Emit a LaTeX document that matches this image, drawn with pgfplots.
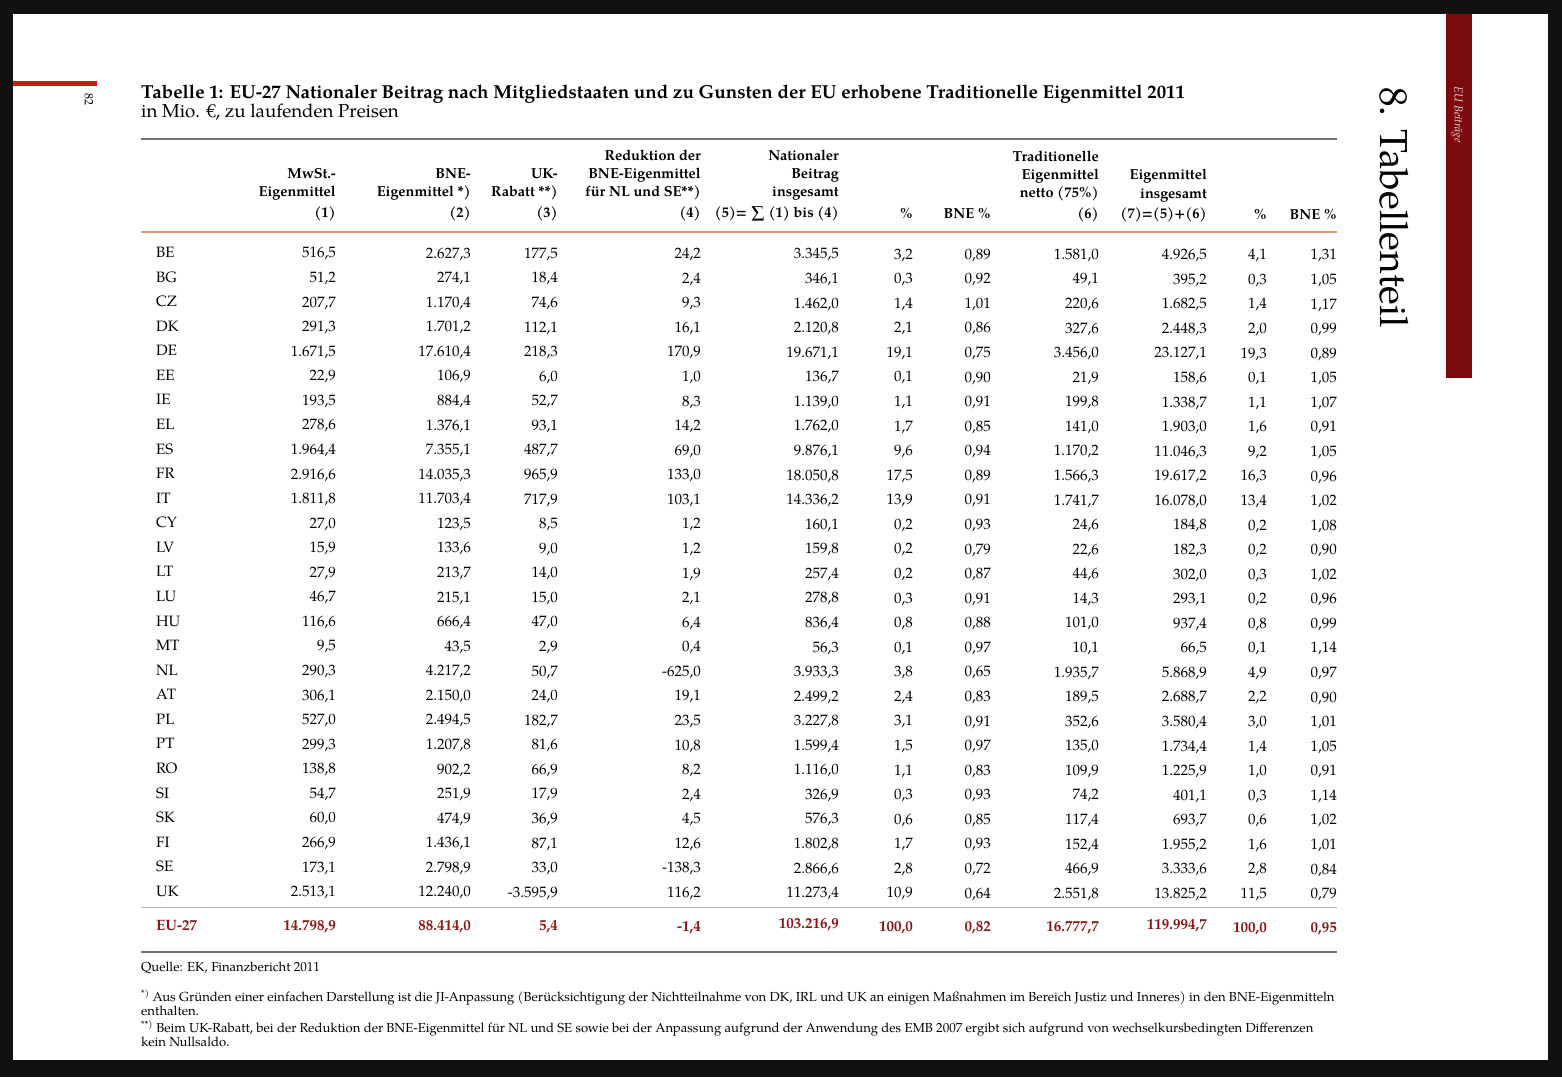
\documentclass[border=0pt]{standalone}
\usepackage{fontspec}
\setmainfont{TeX Gyre Pagella}
\usepackage{pgfplots}
\usepackage{pgfplotstable}
\pgfplotsset{compat=1.18}

\definecolor{totred}{RGB}{140,22,22}
\definecolor{barred}{RGB}{122,10,14}
\definecolor{topred}{RGB}{212,22,22}
\definecolor{salmon}{RGB}{226,150,125}
\definecolor{pagebg}{RGB}{17,17,17}

\newcommand{\bodyfont}{\fontsize{15}{18}\selectfont}
\newcommand{\hdrfont}{\fontsize{14.5}{18}\selectfont\bfseries}
\newcommand{\totfont}{\fontsize{15}{18}\selectfont\bfseries}
\newcommand{\ttlfont}{\fontsize{18.8}{22}\selectfont\bfseries}
\newcommand{\subfont}{\fontsize{18.7}{22}\selectfont}
\newcommand{\fnfont}{\fontsize{13.1}{15}\selectfont}

\tikzset{hdr/.style={anchor=base east, inner sep=0pt, font=\hdrfont}}

\pgfplotstableread{
row cc c1 c2 c3 c4 c5 c6 c7 c8 c9 c10 c11
0 BE 516,5 2.627,3 177,5 24,2 3.345,5 3,2 0,89 1.581,0 4.926,5 4,1 1,31
1 BG 51,2 274,1 18,4 2,4 346,1 0,3 0,92 49,1 395,2 0,3 1,05
2 CZ 207,7 1.170,4 74,6 9,3 1.462,0 1,4 1,01 220,6 1.682,5 1,4 1,17
3 DK 291,3 1.701,2 112,1 16,1 2.120,8 2,1 0,86 327,6 2.448,3 2,0 0,99
4 DE 1.671,5 17.610,4 218,3 170,9 19.671,1 19,1 0,75 3.456,0 23.127,1 19,3 0,89
5 EE 22,9 106,9 6,0 1,0 136,7 0,1 0,90 21,9 158,6 0,1 1,05
6 IE 193,5 884,4 52,7 8,3 1.139,0 1,1 0,91 199,8 1.338,7 1,1 1,07
7 EL 278,6 1.376,1 93,1 14,2 1.762,0 1,7 0,85 141,0 1.903,0 1,6 0,91
8 ES 1.964,4 7.355,1 487,7 69,0 9.876,1 9,6 0,94 1.170,2 11.046,3 9,2 1,05
9 FR 2.916,6 14.035,3 965,9 133,0 18.050,8 17,5 0,89 1.566,3 19.617,2 16,3 0,96
10 IT 1.811,8 11.703,4 717,9 103,1 14.336,2 13,9 0,91 1.741,7 16.078,0 13,4 1,02
11 CY 27,0 123,5 8,5 1,2 160,1 0,2 0,93 24,6 184,8 0,2 1,08
12 LV 15,9 133,6 9,0 1,2 159,8 0,2 0,79 22,6 182,3 0,2 0,90
13 LT 27,9 213,7 14,0 1,9 257,4 0,2 0,87 44,6 302,0 0,3 1,02
14 LU 46,7 215,1 15,0 2,1 278,8 0,3 0,91 14,3 293,1 0,2 0,96
15 HU 116,6 666,4 47,0 6,4 836,4 0,8 0,88 101,0 937,4 0,8 0,99
16 MT 9,5 43,5 2,9 0,4 56,3 0,1 0,97 10,1 66,5 0,1 1,14
17 NL 290,3 4.217,2 50,7 -625,0 3.933,3 3,8 0,65 1.935,7 5.868,9 4,9 0,97
18 AT 306,1 2.150,0 24,0 19,1 2.499,2 2,4 0,83 189,5 2.688,7 2,2 0,90
19 PL 527,0 2.494,5 182,7 23,5 3.227,8 3,1 0,91 352,6 3.580,4 3,0 1,01
20 PT 299,3 1.207,8 81,6 10,8 1.599,4 1,5 0,97 135,0 1.734,4 1,4 1,05
21 RO 138,8 902,2 66,9 8,2 1.116,0 1,1 0,83 109,9 1.225,9 1,0 0,91
22 SI 54,7 251,9 17,9 2,4 326,9 0,3 0,93 74,2 401,1 0,3 1,14
23 SK 60,0 474,9 36,9 4,5 576,3 0,6 0,85 117,4 693,7 0,6 1,02
24 FI 266,9 1.436,1 87,1 12,6 1.802,8 1,7 0,93 152,4 1.955,2 1,6 1,01
25 SE 173,1 2.798,9 33,0 -138,3 2.866,6 2,8 0,72 466,9 3.333,6 2,8 0,84
26 UK 2.513,1 12.240,0 -3.595,9 116,2 11.273,4 10,9 0,64 2.551,8 13.825,2 11,5 0,79
}\datatable

\pgfplotstableread{
row cc c1 c2 c3 c4 c5 c6 c7 c8 c9 c10 c11
0 EU-27 14.798,9 88.414,0 5,4 -1,4 103.216,9 100,0 0,82 16.777,7 119.994,7 100,0 0,95
}\totaltable

\pgfplotsset{
  cell/.style={only marks, mark=text, text mark={},
    point meta=explicit symbolic,
    nodes near coords={\pgfplotspointmeta},
    every node near coord/.append style={anchor=base east, inner sep=0pt, font=\bodyfont, text=black}},
  totcell/.style={cell,
    every node near coord/.append style={font=\totfont, text=totred}},
}

% body column: x = right edge, #3 = column name
\newcommand{\col}[3][]{\addplot[cell,#1] table[x expr=#2, y expr={257.5+24.57*\thisrow{row}+0.002*(#2-156)}, meta=#3]{\datatable};}
\newcommand{\tcol}[3][]{\addplot[totcell,#1] table[x expr=#2, y expr={930+0.002*(#2-156)}, meta=#3]{\totaltable};}

\begin{document}
\begin{tikzpicture}
\begin{axis}[
  width=1562pt, height=1077pt, scale only axis,
  xmin=0, xmax=1562, ymin=0, ymax=1077, y dir=reverse,
  hide axis, clip=false,
]
% scanned page background
\fill[pagebg] (axis cs:0,0) rectangle (axis cs:1562,1077);
\fill[white] (axis cs:13,14) rectangle (axis cs:1548,1060);
\fill[topred] (axis cs:13,81) rectangle (axis cs:97,86);
\fill[barred] (axis cs:1446,14) rectangle (axis cs:1472,378);
\node[rotate=-90, anchor=west, inner sep=0pt, font=\fontsize{12}{14}\selectfont] at (axis cs:89,93) {82};
\node[rotate=-90, anchor=west, inner sep=0pt, font=\fontsize{11.5}{13}\selectfont\itshape, text={rgb,255:red,245;green,215;blue,215}] at (axis cs:1457,86) {EU Beiträge};
\node[rotate=-90, anchor=west, inner sep=0pt, font=\fontsize{39}{44}\selectfont] at (axis cs:1394,87) {8. Tabellenteil};

% title
\node[anchor=base west, inner sep=0pt, font=\ttlfont] at (axis cs:141,98) {Tabelle 1: EU-27 Nationaler Beitrag nach Mitgliedstaaten und zu Gunsten der EU erhobene Traditionelle Eigenmittel 2011};
\node[anchor=base west, inner sep=0pt, font=\subfont] at (axis cs:141,117) {in Mio. €, zu laufenden Preisen};

% rules
\draw[black!55, line width=1.3pt] (axis cs:141,139) -- (axis cs:1337,139);
\draw[salmon, line width=1.5pt] (axis cs:141,232) -- (axis cs:1337,232);
\draw[black!30, line width=0.9pt] (axis cs:141,907) -- (axis cs:1337,907);
\draw[black!55, line width=1.8pt] (axis cs:141,952) -- (axis cs:1337,952);

% header
\node[hdr] at (axis cs:336,178) {MwSt.-};
\node[hdr] at (axis cs:336,196) {Eigenmittel};
\node[hdr] at (axis cs:336,217) {(1)};
\node[hdr] at (axis cs:471,178) {BNE-};
\node[hdr] at (axis cs:471,196) {Eigenmittel *)};
\node[hdr] at (axis cs:471,217) {(2)};
\node[hdr] at (axis cs:558,178) {UK-};
\node[hdr] at (axis cs:558,196) {Rabatt **)};
\node[hdr] at (axis cs:558,217) {(3)};
\node[hdr] at (axis cs:701,160) {Reduktion der};
\node[hdr] at (axis cs:701,178) {BNE-Eigenmittel};
\node[hdr] at (axis cs:701,196) {für NL und SE**)};
\node[hdr] at (axis cs:701,217) {(4)};
\node[hdr] at (axis cs:839,160) {Nationaler};
\node[hdr] at (axis cs:839,178) {Beitrag};
\node[hdr] at (axis cs:839,196) {insgesamt};
\node[hdr] at (axis cs:839,217) {(5)= ∑ (1) bis (4)};
\node[hdr] at (axis cs:913,218) {\%};
\node[hdr] at (axis cs:991,218) {BNE \%};
\node[hdr] at (axis cs:1099,161) {Traditionelle};
\node[hdr] at (axis cs:1099,179) {Eigenmittel};
\node[hdr] at (axis cs:1099,197) {netto (75\%)};
\node[hdr] at (axis cs:1099,218) {(6)};
\node[hdr] at (axis cs:1207,179) {Eigenmittel};
\node[hdr] at (axis cs:1207,198) {insgesamt};
\node[hdr] at (axis cs:1207,218) {(7)=(5)+(6)};
\node[hdr] at (axis cs:1267,219) {\%};
\node[hdr] at (axis cs:1337,219) {BNE \%};

% body
\col[every node near coord/.append style={anchor=base west}]{156}{cc}
\col{336}{c1}
\col{471}{c2}
\col{558}{c3}
\col{701}{c4}
\col{839}{c5}
\col{913}{c6}
\col{991}{c7}
\col{1099}{c8}
\col{1207}{c9}
\col{1267}{c10}
\col{1337}{c11}

% totals
\tcol[every node near coord/.append style={anchor=base west}]{156}{cc}
\tcol{336}{c1}
\tcol{471}{c2}
\tcol{558}{c3}
\tcol{701}{c4}
\tcol[every node near coord/.append style={yshift=3pt}]{839}{c5}
\tcol{913}{c6}
\tcol{991}{c7}
\tcol{1099}{c8}
\tcol[every node near coord/.append style={yshift=3pt}]{1207}{c9}
\tcol{1267}{c10}
\tcol{1337}{c11}

% footnotes
\node[anchor=base west, inner sep=0pt, font=\fnfont] at (axis cs:141,971) {Quelle: EK, Finanzbericht 2011};
\node[anchor=base west, inner sep=0pt, font=\fnfont] at (axis cs:141,1001) {\textsuperscript{*)} Aus Gründen einer einfachen Darstellung ist die JI-Anpassung (Berücksichtigung der Nichtteilnahme von DK, IRL und UK an einigen Maßnahmen im Bereich Justiz und Inneres) in den BNE-Eigenmitteln};
\node[anchor=base west, inner sep=0pt, font=\fnfont] at (axis cs:141,1015) {enthalten.};
\node[anchor=base west, inner sep=0pt, font=\fnfont] at (axis cs:141,1032) {\textsuperscript{**)} Beim UK-Rabatt, bei der Reduktion der BNE-Eigenmittel für NL und SE sowie bei der Anpassung aufgrund der Anwendung des EMB 2007 ergibt sich aufgrund von wechselkursbedingten Differenzen};
\node[anchor=base west, inner sep=0pt, font=\fnfont] at (axis cs:141,1046) {kein Nullsaldo.};
\end{axis}
\end{tikzpicture}
\end{document}
